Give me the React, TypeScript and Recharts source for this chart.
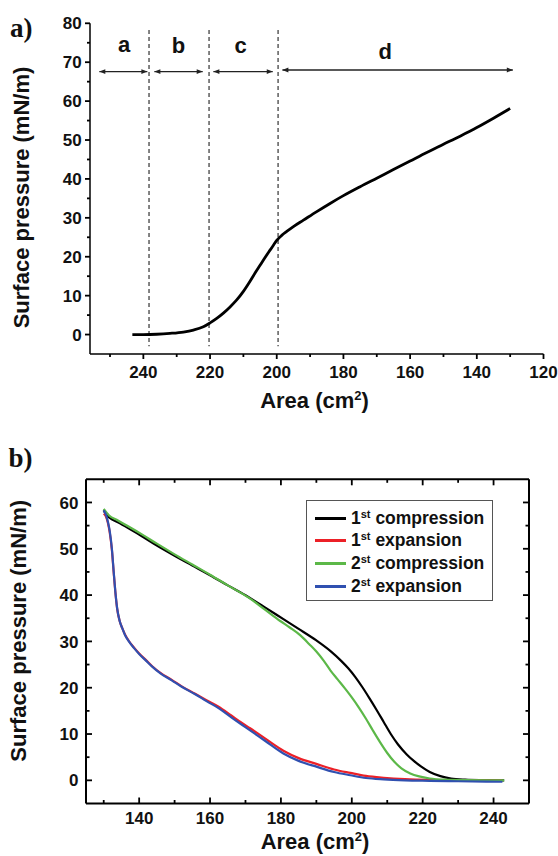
import React from 'react';
import { ComposedChart, Line, XAxis, YAxis, ReferenceLine, ReferenceDot, Legend } from 'recharts';

const FONT = '"Liberation Sans", Arial, Helvetica, sans-serif';
const SERIF = '"Liberation Serif", "Times New Roman", serif';

// ---------- Panel a: isotherm ----------
const isoArea = [243.3, 240, 236, 232, 228, 225, 222, 220, 218, 216, 214, 212, 210, 208, 206.5, 205, 203.5, 202, 201, 200, 198.5, 197, 195, 192, 188, 184, 180, 175, 170, 165, 160, 155, 150, 145, 140, 135, 130];
const isoPressure = [0, 0, 0.08, 0.3, 0.65, 1.15, 2.0, 3.0, 4.15, 5.5, 7.1, 8.9, 11.1, 13.7, 15.8, 17.8, 19.8, 21.7, 22.95, 24.2, 25.5, 26.5, 27.75, 29.4, 31.6, 33.7, 35.7, 38.0, 40.2, 42.4, 44.6, 46.8, 48.9, 51.0, 53.2, 55.6, 58.1];

const regionBounds = [238.3, 220.3, 199.6];
const boundTop = 78.3;
const boundBottom = -3;
const regionLetters = ['a', 'b', 'c', 'd'];
const letterX = [245.8, 229.5, 210.8, 167.5];
const letterY = [72.6, 72.4, 72.4, 70.8];
const arrowFrom = [253.2, 236.7, 219.0, 198.3];
const arrowTo = [238.8, 222.2, 201.2, 129.2];
const arrowY = [67.6, 67.6, 67.6, 68.0];

const aXDomain = [120, 256];
const aYDomain = [-5, 80];
const aXTicks = [250, 240, 230, 220, 210, 200, 190, 180, 170, 160, 150, 140, 130, 120];
const aYTicks = [0, 5, 10, 15, 20, 25, 30, 35, 40, 45, 50, 55, 60, 65, 70, 75, 80];

// ---------- Panel b: compression / expansion cycles ----------
const c1Area = [130, 130.8, 131.8, 134, 137, 141, 145, 150, 155, 160, 165, 170.8, 175.6, 180.7, 185, 190, 194, 197, 199, 201, 203, 205, 207, 209, 211, 213, 215.5, 217.5, 219.5, 222, 225, 228, 232, 236, 243];
const c1Pressure = [58.3, 57.3, 56.6, 55.7, 54.4, 52.6, 50.7, 48.5, 46.4, 44.3, 42.1, 39.6, 37.3, 34.8, 32.7, 30.2, 27.9, 25.8, 24.2, 22.3, 20.1, 17.7, 15.2, 12.6, 10.0, 7.8, 5.6, 4.2, 3.0, 1.8, 0.9, 0.4, 0.15, 0.05, 0];

const expArea = [130, 130.6, 131.2, 131.7, 132.3, 132.8, 133.3, 133.8, 134.5, 135.2, 136, 137, 138.5, 140, 142, 143.6, 146, 149.2, 152, 155.8, 159, 162.4, 166, 169, 171.3, 175.6, 180.7, 185, 190.2, 195, 199.6, 204, 209, 215, 222, 230, 242.5];
const e1Pressure = [57.6, 57.0, 55.5, 53.5, 49.8, 45.0, 40.5, 37.0, 34.4, 32.9, 31.5, 30.2, 28.7, 27.4, 25.9, 24.7, 23.2, 21.7, 20.3, 18.7, 17.3, 15.9, 14.0, 12.4, 11.25, 9.0, 6.4, 4.8, 3.5, 2.35, 1.6, 0.95, 0.55, 0.25, 0.1, 0.05, 0];
const e2Pressure = [58.3, 57.4, 55.8, 53.8, 50.0, 45.2, 40.6, 37.1, 34.4, 32.9, 31.4, 30.1, 28.6, 27.3, 25.8, 24.6, 23.1, 21.6, 20.2, 18.6, 17.1, 15.6, 13.6, 12.0, 10.8, 8.5, 5.8, 4.2, 2.9, 1.8, 1.1, 0.5, 0.2, 0.0, -0.1, -0.2, -0.3];

const c2Area = [130, 131.5, 134, 137, 141, 145, 150, 155, 160, 165, 170.8, 175.6, 179.8, 182.5, 185.5, 188, 190, 192, 194, 196, 198, 200, 202, 204, 206, 208, 210, 212, 214, 216.5, 219, 222, 226, 232, 243];
const c2Pressure = [58.6, 57.2, 56.1, 54.8, 53.0, 51.1, 48.8, 46.6, 44.4, 42.1, 39.5, 36.8, 34.4, 33.0, 31.3, 29.4, 27.8, 25.9, 23.7, 21.8, 19.9, 17.9, 15.7, 13.3, 10.7, 8.2, 5.9, 4.0, 2.6, 1.5, 0.85, 0.4, 0.15, 0.05, 0];

const seriesNames = ['1st compression', '1st expansion', '2st compression', '2st expansion'];
const seriesColors = ['#000000', '#ec2027', '#5cb848', '#3050b0'];

const bXDomain = [125, 250];
const bYDomain = [-5, 65];
const bXTicks = [130, 140, 150, 160, 170, 180, 190, 200, 210, 220, 230, 240];
const bYTicks = [0, 5, 10, 15, 20, 25, 30, 35, 40, 45, 50, 55, 60];

const zip = (xs: number[], ys: number[]) =>
  xs.map((x, i) => ({ area: x, p: ys[i] })).sort((a, b) => a.area - b.area);

const isoData = zip(isoArea, isoPressure);
const bSeries = [
  zip(c1Area, c1Pressure),
  zip(expArea, e1Pressure),
  zip(c2Area, c2Pressure),
  zip(expArea, e2Pressure),
];

// ---------- layout ----------
const W = 558;
const A_H = 420;
const A_M = { top: 23.3, right: 14.5, left: 0, bottom: 0 };
const A_YW = 90;
const A_XH = 66;
const B_H = 436;
const B_M = { top: 58.3, right: 28, left: 0, bottom: 0 };
const B_YW = 86;
const B_XH = 52.5;
const aUx = (aXDomain[1] - aXDomain[0]) / (W - A_M.left - A_M.right - A_YW);
const aUy = (aYDomain[1] - aYDomain[0]) / (A_H - A_M.top - A_M.bottom - A_XH);
const bUx = (bXDomain[1] - bXDomain[0]) / (W - B_M.left - B_M.right - B_YW - 1);
const bUy = (bYDomain[1] - bYDomain[0]) / (B_H - B_M.top - B_M.bottom - B_XH - 1);

function makeLabel(side: string, step: number, offset: number) {
  return function TickLabel(props: any) {
    const x = Number(props.x);
    const y = Number(props.y);
    const v = Number(props.payload.value);
    if (v % step !== 0) return <g />;
    if (side === 'bottom')
      return (
        <text x={x} y={y + offset} textAnchor="middle" fontFamily={FONT} fontWeight="bold" fontSize={17} fill="#111">
          {v}
        </text>
      );
    return (
      <text x={x - offset} y={y} dy="0.36em" textAnchor="end" fontFamily={FONT} fontWeight="bold" fontSize={17} fill="#111">
        {v}
      </text>
    );
  };
}
const aBottomLabel = makeLabel('bottom', 20, 24.3);
const aLeftLabel = makeLabel('left', 10, 8.3);
const bBottomLabel = makeLabel('bottom', 20, 20.5);
const bLeftLabel = makeLabel('left', 10, 7.5);
const noLabel = () => <g />;

type Seg = { key: string; seg: { x: number; y: number }[] };

const aTickSegs: Seg[] = [
  ...aXTicks.map((v) => {
    const len = (v % 20 === 0 ? 5 : 3) * aUy;
    return { key: `ax${v}`, seg: [{ x: v, y: aYDomain[0] }, { x: v, y: aYDomain[0] - len }] };
  }),
  ...aYTicks.map((v) => {
    const len = (v % 10 === 0 ? 5 : 3) * aUx;
    return { key: `ay${v}`, seg: [{ x: aXDomain[1], y: v }, { x: aXDomain[1] + len, y: v }] };
  }),
];

const bTickSegs: Seg[] = [
  ...bXTicks.flatMap((v) => {
    const len = (v % 20 === 0 ? 6 : 3.5) * bUy;
    return [
      { key: `bxb${v}`, seg: [{ x: v, y: bYDomain[0] }, { x: v, y: bYDomain[0] + len }] },
      { key: `bxt${v}`, seg: [{ x: v, y: bYDomain[1] }, { x: v, y: bYDomain[1] - len }] },
    ];
  }),
  ...bYTicks.flatMap((v) => {
    const len = (v % 10 === 0 ? 6 : 3.5) * bUx;
    return [
      { key: `byl${v}`, seg: [{ x: bXDomain[0], y: v }, { x: bXDomain[0] + len, y: v }] },
      { key: `byr${v}`, seg: [{ x: bXDomain[1], y: v }, { x: bXDomain[1] - len, y: v }] },
    ];
  }),
];

const ArrowShape = (p: any) => {
  const { x1, y1, x2, y2 } = p;
  const h = 6;
  const w = 2.4;
  const dir = Math.sign(x2 - x1) || 1;
  return (
    <g>
      <line x1={x1} y1={y1} x2={x2} y2={y2} stroke="#222" strokeWidth={1.3} />
      <polygon points={`${x1},${y1} ${x1 + dir * h},${y1 - w} ${x1 + dir * h},${y1 + w}`} fill="#222" />
      <polygon points={`${x2},${y2} ${x2 - dir * h},${y2 - w} ${x2 - dir * h},${y2 + w}`} fill="#222" />
    </g>
  );
};

const LegendBox = (props: any) => {
  const payload = (props.payload || []).filter((e: any) => e.type !== 'none' && e.value);
  return (
    <div
      style={{
        boxSizing: 'border-box',
        width: 187,
        height: 101,
        border: '1.5px solid #555',
        background: '#fff',
        paddingTop: 6,
        fontFamily: FONT,
        fontWeight: 'bold',
        fontSize: 17.5,
        color: '#111',
      }}
    >
      {payload.map((e: any, i: number) => {
        const m = /^(\d+)(\S\S) (.*)$/.exec(String(e.value)) || ['', String(e.value), '', ''];
        return (
          <div key={i} style={{ display: 'flex', alignItems: 'center', height: 22.6, whiteSpace: 'nowrap' }}>
            <span style={{ display: 'inline-block', width: 31, height: 3, background: e.color, marginLeft: 8, marginRight: 5 }} />
            <span>
              {m[1]}
              <span style={{ fontSize: 11, position: 'relative', top: -6 }}>{m[2]}</span> {m[3]}
            </span>
          </div>
        );
      })}
    </div>
  );
};

const Box = ({ left, top, w, h, children }: any) => (
  <svg width={w} height={h} style={{ position: 'absolute', left, top, overflow: 'visible', pointerEvents: 'none' }}>
    {children}
  </svg>
);

const AreaTitle = ({ cx, baseline }: { cx: number; baseline: number }) => (
  <text x={cx} y={baseline} textAnchor="middle" fontFamily={FONT} fontWeight="bold" fontSize={22} fill="#111">
    <tspan>Area (cm</tspan>
    <tspan dy={-8} fontSize={13}>2</tspan>
    <tspan dy={8}>)</tspan>
  </text>
);

const PressureTitle = ({ bx, cy }: { bx: number; cy: number }) => (
  <text
    x={bx}
    y={cy}
    transform={`rotate(-90, ${bx}, ${cy})`}
    textAnchor="middle"
    fontFamily={FONT}
    fontWeight="bold"
    fontSize={22}
    fill="#111"
  >
    Surface pressure (mN/m)
  </text>
);

export default function App() {
  return (
    <div style={{ position: 'absolute', left: 0, top: 0, width: W, height: 856, background: '#fff' }}>
      <div style={{ position: 'absolute', left: 0, top: 0 }}>
        <ComposedChart width={W} height={A_H} margin={A_M}>
          <XAxis
            type="number"
            dataKey="area"
            domain={aXDomain}
            reversed
            allowDataOverflow
            ticks={aXTicks}
            interval={0}
            height={A_XH}
            tickLine={false}
            tickSize={0}
            tickMargin={0}
            axisLine={{ stroke: '#000', strokeWidth: 1.5 }}
            tick={aBottomLabel}
          />
          <YAxis
            type="number"
            domain={aYDomain}
            allowDataOverflow
            ticks={aYTicks}
            interval={0}
            width={A_YW}
            tickLine={false}
            tickSize={0}
            tickMargin={0}
            axisLine={{ stroke: '#000', strokeWidth: 1.5 }}
            tick={aLeftLabel}
          />
          {aTickSegs.map((t) => (
            <ReferenceLine key={t.key} segment={t.seg} ifOverflow="visible" stroke="#000" strokeWidth={1.8} />
          ))}
          {regionBounds.map((b, i) => (
            <ReferenceLine
              key={`bd${i}`}
              segment={[
                { x: b, y: boundTop },
                { x: b, y: boundBottom },
              ]}
              stroke="#333"
              strokeWidth={1.2}
              strokeDasharray="4 3"
            />
          ))}
          {arrowFrom.map((f, i) => (
            <ReferenceLine
              key={`ar${i}`}
              segment={[
                { x: f, y: arrowY[i] },
                { x: arrowTo[i], y: arrowY[i] },
              ]}
              shape={ArrowShape}
            />
          ))}
          {regionLetters.map((l, i) => (
            <ReferenceDot
              key={`lt${i}`}
              x={letterX[i]}
              y={letterY[i]}
              r={0}
              shape={(p: any) => (
                <text x={p.cx} y={p.cy} textAnchor="middle" fontFamily={FONT} fontWeight="bold" fontSize={22} fill="#111">
                  {l}
                </text>
              )}
            />
          ))}
          <Line
            data={isoData}
            dataKey="p"
            type="monotone"
            stroke="#000"
            strokeWidth={2.8}
            dot={false}
            activeDot={false}
            isAnimationActive={false}
          />
        </ComposedChart>
      </div>

      <div style={{ position: 'absolute', left: 0, top: A_H }}>
        <ComposedChart width={W} height={B_H} margin={B_M}>
          <XAxis
            type="number"
            dataKey="area"
            domain={bXDomain}
            allowDataOverflow
            ticks={bXTicks}
            interval={0}
            height={B_XH}
            tickLine={false}
            tickSize={0}
            tickMargin={0}
            axisLine={{ stroke: '#000', strokeWidth: 2 }}
            tick={bBottomLabel}
          />
          <XAxis
            xAxisId="top"
            orientation="top"
            type="number"
            dataKey="area"
            domain={bXDomain}
            allowDataOverflow
            ticks={bXTicks}
            interval={0}
            height={1}
            tickLine={false}
            tickSize={0}
            tickMargin={0}
            axisLine={{ stroke: '#000', strokeWidth: 2 }}
            tick={noLabel}
          />
          <YAxis
            type="number"
            domain={bYDomain}
            allowDataOverflow
            ticks={bYTicks}
            interval={0}
            width={B_YW}
            tickLine={false}
            tickSize={0}
            tickMargin={0}
            axisLine={{ stroke: '#000', strokeWidth: 2 }}
            tick={bLeftLabel}
          />
          <YAxis
            yAxisId="right"
            orientation="right"
            type="number"
            domain={bYDomain}
            allowDataOverflow
            ticks={bYTicks}
            interval={0}
            width={1}
            tickLine={false}
            tickSize={0}
            tickMargin={0}
            axisLine={{ stroke: '#000', strokeWidth: 2 }}
            tick={noLabel}
          />
          {bTickSegs.map((t) => (
            <ReferenceLine key={t.key} segment={t.seg} ifOverflow="visible" stroke="#000" strokeWidth={1.8} />
          ))}
          {bSeries.map((d, i) => (
            <Line
              key={seriesNames[i]}
              name={seriesNames[i]}
              data={d}
              dataKey="p"
              type="monotone"
              stroke={seriesColors[i]}
              strokeWidth={2.2}
              dot={false}
              activeDot={false}
              isAnimationActive={false}
            />
          ))}
          <Line
            xAxisId="top"
            yAxisId="right"
            data={bSeries[0]}
            dataKey="p"
            stroke="transparent"
            strokeWidth={0}
            dot={false}
            activeDot={false}
            legendType="none"
            isAnimationActive={false}
          />
          <Legend
            layout="horizontal"
            verticalAlign="middle"
            align="center"
            wrapperStyle={{ left: 306, top: 80, width: 187 }}
            content={LegendBox}
          />
        </ComposedChart>
      </div>

      <Box left={0} top={10} w={45} h={40}>
        <text x={10} y={27} fontFamily={SERIF} fontWeight="bold" fontSize={27} fill="#111">
          a)
        </text>
      </Box>
      <Box left={0} top={440} w={45} h={40}>
        <text x={8.5} y={27} fontFamily={SERIF} fontWeight="bold" fontSize={27} fill="#111">
          b)
        </text>
      </Box>
      <Box left={240} top={385} w={150} h={30}>
        <AreaTitle cx={74.5} baseline={22.5} />
      </Box>
      <Box left={5} top={60} w={30} h={280}>
        <PressureTitle bx={24} cy={137.5} />
      </Box>
      <Box left={240} top={826} w={150} h={30}>
        <AreaTitle cx={75} baseline={23} />
      </Box>
      <Box left={0} top={490} w={34} h={282}>
        <PressureTitle bx={26} cy={140.8} />
      </Box>
    </div>
  );
}
